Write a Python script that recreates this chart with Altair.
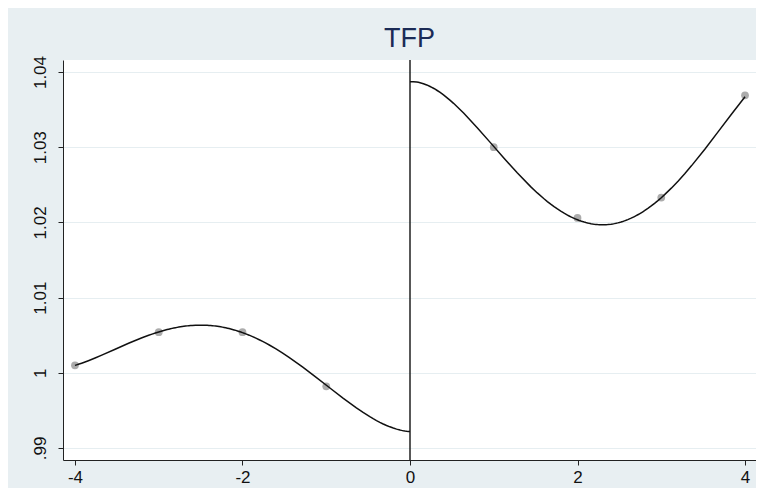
import altair as alt
import pandas as pd

# Binned means (scatter)
bin_x = [-4, -3, -2, -1, 1, 2, 3, 4]
bin_y = [1.0010, 1.0054, 1.0054, 0.9982, 1.0300, 1.0206, 1.0233, 1.0369]

# Fitted curve
fit_left_x = [-4, -3.5, -3, -2.5, -2, -1.5, -1, -0.5, -0.25, 0]
fit_left_y = [1.0010, 1.0032, 1.0054, 1.0064, 1.0054, 1.0024, 0.9983, 0.9943, 0.9930, 0.9921]
fit_right_x = [0, 0.25, 0.5, 0.75, 1, 1.25, 1.5, 2, 2.33, 2.5, 3, 3.5, 4]
fit_right_y = [1.0385, 1.0381, 1.0367, 1.0329, 1.0300, 1.0267, 1.0241, 1.0204, 1.0199, 1.0201, 1.0232, 1.0293, 1.0368]

x_ticks = [-4, -2, 0, 2, 4]
y_ticks = [0.99, 1.0, 1.01, 1.02, 1.03, 1.04]
title_text = "TFP"

pts = pd.DataFrame({"x": bin_x, "y": bin_y})
fit = pd.concat([
    pd.DataFrame({"x": fit_left_x, "y": fit_left_y, "side": "left"}),
    pd.DataFrame({"x": fit_right_x, "y": fit_right_y, "side": "right"}),
])
cut = pd.DataFrame({"x": [0]})

FONT = "Liberation Sans"
xscale = alt.Scale(domain=[-4.143, 4.131], nice=False, zero=False)
yscale = alt.Scale(domain=[0.9884, 1.0416], nice=False, zero=False)

xaxis = alt.Axis(values=x_ticks, title=None, grid=False, labelFontSize=17,
                 labelFont=FONT, labelColor="#111", tickColor="#222", domainColor="#222",
                 tickSize=5, labelPadding=4, labelExpr="datum.value + ''")
yaxis = alt.Axis(values=y_ticks, title=None, grid=True, gridColor="#e6eef1",
                 labelFontSize=17, labelFont=FONT, labelColor="#111", tickColor="#222",
                 domainColor="#222", tickSize=5, labelAngle=270, labelAlign="center",
                 labelBaseline="bottom", labelPadding=9,
                 labelExpr="datum.value == 1 ? '1' : (datum.value < 1 ? substring(format(datum.value, '.2f'), 1) : format(datum.value, '.2f'))")

points = alt.Chart(pts).mark_circle(size=60, color="#a3a3a3", opacity=0.9).encode(
    x=alt.X("x:Q", scale=xscale, axis=xaxis),
    y=alt.Y("y:Q", scale=yscale, axis=yaxis),
)

lines = alt.Chart(fit).transform_regression(
    "x", "y", method="poly", order=4, groupby=["side"]
).mark_line(color="#111", strokeWidth=1.5).encode(
    x=alt.X("x:Q", scale=xscale),
    y=alt.Y("y:Q", scale=yscale),
    detail="side:N",
)

rule = alt.Chart(cut).mark_rule(color="#111", strokeWidth=1.4).encode(
    x=alt.X("x:Q", scale=xscale),
)

chart = alt.layer(points, rule, lines).properties(
    width=693,
    height=400,
    background="#e8eff2",
    padding={"left": 55, "top": 52, "right": 0, "bottom": 28},
    autosize=alt.AutoSizeParams(type="none"),
    title=alt.TitleParams(title_text, fontSize=27, font=FONT, fontWeight="normal",
                          color="#1b2b56", anchor="middle", offset=2),
).configure_view(
    fill="white", stroke=None,
)

chart.save("out.html", embed_options={"renderer": "svg", "actions": False})
